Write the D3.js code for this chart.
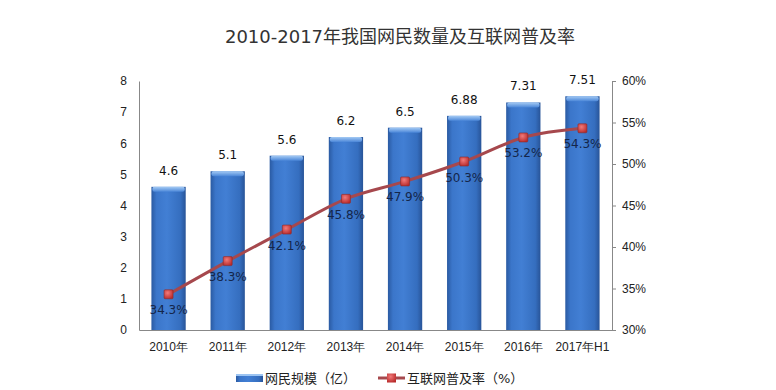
<!DOCTYPE html>
<html>
<head>
<meta charset="utf-8">
<script src="https://cdn.jsdelivr.net/npm/d3@7"></script>
<style>
  body { margin: 0; background: #fff; }
  svg { font-family: "DejaVu Sans", "Noto Sans CJK SC", sans-serif; }
</style>
</head>
<body>
<svg id="chart"></svg>
<script>
var categories = ['2010年', '2011年', '2012年', '2013年', '2014年', '2015年', '2016年', '2017年H1'];
var users = [4.6, 5.1, 5.6, 6.2, 6.5, 6.88, 7.31, 7.51];
var rate = [34.3, 38.3, 42.1, 45.8, 47.9, 50.3, 53.2, 54.3];
var leftTicks = [0, 1, 2, 3, 4, 5, 6, 7, 8];
var rightTicks = [30, 35, 40, 45, 50, 55, 60];

var W = 776, H = 390;
var margin = { top: 81, right: 164, bottom: 60, left: 139 };
var width = W - margin.left - margin.right;
var height = H - margin.top - margin.bottom;

var svg = d3.select('#chart').attr('width', W).attr('height', H);

var defs = svg.append('defs');
var grad = defs.append('linearGradient').attr('id', 'barGrad')
  .attr('x1', '0%').attr('x2', '100%').attr('y1', '0%').attr('y2', '0%');
grad.append('stop').attr('offset', '0%').attr('stop-color', '#2a5aa2');
grad.append('stop').attr('offset', '15%').attr('stop-color', '#3b76ca');
grad.append('stop').attr('offset', '45%').attr('stop-color', '#427fd4');
grad.append('stop').attr('offset', '85%').attr('stop-color', '#356ebf');
grad.append('stop').attr('offset', '100%').attr('stop-color', '#285498');
var cap = defs.append('linearGradient').attr('id', 'capGrad')
  .attr('x1', '0%').attr('x2', '0%').attr('y1', '0%').attr('y2', '100%');
cap.append('stop').attr('offset', '0%').attr('stop-color', '#a4caf4');
cap.append('stop').attr('offset', '100%').attr('stop-color', '#4a86d8');
var mk = defs.append('radialGradient').attr('id', 'mkGrad')
  .attr('cx', '40%').attr('cy', '35%').attr('r', '70%');
mk.append('stop').attr('offset', '0%').attr('stop-color', '#f27a7a');
mk.append('stop').attr('offset', '100%').attr('stop-color', '#b82a2a');

svg.append('text')
  .attr('x', 400).attr('y', 43)
  .attr('text-anchor', 'middle')
  .attr('font-size', '18px')
  .attr('fill', '#333')
  .text('2010-2017年我国网民数量及互联网普及率');

var chart = svg.append('g')
  .attr('transform', `translate(${ margin.left }, ${ margin.top })`);

var x = d3.scaleBand()
  .domain(categories)
  .range([0, width])
  .paddingInner(0.42)
  .paddingOuter(0.21);

var y = d3.scaleLinear().domain([0, 8]).range([height, 0]);
var y2 = d3.scaleLinear().domain([30, 60]).range([height, 0]);

// left axis
var yAxis = d3.axisLeft(y).tickValues(leftTicks).tickSize(0).tickPadding(12);
chart.append('g').attr('class', 'axis y').call(yAxis)
  .call(g => g.select('.domain').attr('stroke', '#888'))
  .call(g => g.selectAll('text').attr('font-size', '12px').attr('fill', '#222'));

// right axis
var y2Axis = d3.axisRight(y2).tickValues(rightTicks).tickSize(4).tickPadding(6)
  .tickFormat(d => d + '%');
chart.append('g').attr('class', 'axis y2')
  .attr('transform', `translate(${ width }, 0)`)
  .call(y2Axis)
  .call(g => g.select('.domain').attr('stroke', '#888'))
  .call(g => g.selectAll('line').attr('stroke', '#888'))
  .call(g => g.selectAll('text').attr('font-size', '12px').attr('fill', '#222'));

// bottom axis
var xAxis = d3.axisBottom(x).tickSize(0).tickPadding(12);
chart.append('g').attr('class', 'axis x')
  .attr('transform', `translate(0, ${ height })`)
  .call(xAxis)
  .call(g => g.select('.domain').attr('stroke', '#888'))
  .call(g => g.selectAll('text').attr('font-size', '12px').attr('fill', '#222'));

// bars
var bars = chart.selectAll('.bar')
  .data(users)
  .enter().append('g')
  .attr('class', 'bar');

bars.append('rect')
  .attr('x', (d, i) => x(categories[i]))
  .attr('width', x.bandwidth())
  .attr('y', d => y(d))
  .attr('height', d => height - y(d))
  .attr('fill', 'url(#barGrad)');

bars.append('rect')
  .attr('x', (d, i) => x(categories[i]) + 1)
  .attr('width', x.bandwidth() - 2)
  .attr('y', d => y(d))
  .attr('height', 5)
  .attr('rx', 2)
  .attr('fill', 'url(#capGrad)');

bars.append('text')
  .attr('x', (d, i) => x(categories[i]) + x.bandwidth() / 2)
  .attr('y', d => y(d) - 12)
  .attr('text-anchor', 'middle')
  .attr('font-size', '12px')
  .attr('fill', '#111')
  .text(d => d);

// line
var cx = i => x(categories[i]) + x.bandwidth() / 2;
var line = d3.line()
  .x((d, i) => cx(i))
  .y(d => y2(d))
  .curve(d3.curveMonotoneX);

chart.append('path')
  .datum(rate)
  .attr('d', line)
  .attr('fill', 'none')
  .attr('stroke', '#a6484d')
  .attr('stroke-width', 3);

chart.selectAll('.marker')
  .data(rate)
  .enter().append('rect')
  .attr('class', 'marker')
  .attr('x', (d, i) => cx(i) - 4.5)
  .attr('y', d => y2(d) - 4.5)
  .attr('width', 9)
  .attr('height', 9)
  .attr('rx', 1)
  .attr('fill', 'url(#mkGrad)')
  .attr('stroke', '#8c2a2a')
  .attr('stroke-width', 0.6);

chart.selectAll('.rlabel')
  .data(rate)
  .enter().append('text')
  .attr('class', 'rlabel')
  .attr('x', (d, i) => cx(i))
  .attr('y', d => y2(d) + 20)
  .attr('text-anchor', 'middle')
  .attr('font-size', '12px')
  .attr('fill', '#14264a')
  .text(d => d.toFixed(1) + '%');

// legend
var legend = svg.append('g').attr('transform', 'translate(236, 378)');
legend.append('rect')
  .attr('x', 0).attr('y', -4).attr('width', 27).attr('height', 8)
  .attr('fill', 'url(#barGrad)');
legend.append('rect')
  .attr('x', 0).attr('y', -4).attr('width', 27).attr('height', 2)
  .attr('fill', '#9cc4f2');
legend.append('text')
  .attr('x', 29).attr('y', 5)
  .attr('font-size', '13px').attr('fill', '#222')
  .text('网民规模（亿）');
legend.append('line')
  .attr('x1', 142).attr('x2', 169).attr('y1', 0).attr('y2', 0)
  .attr('stroke', '#a6484d').attr('stroke-width', 3);
legend.append('rect')
  .attr('x', 151).attr('y', -4.5).attr('width', 9).attr('height', 9)
  .attr('fill', 'url(#mkGrad)');
legend.append('text')
  .attr('x', 171).attr('y', 5)
  .attr('font-size', '13px').attr('fill', '#222')
  .text('互联网普及率（%）');
</script>
</body>
</html>
